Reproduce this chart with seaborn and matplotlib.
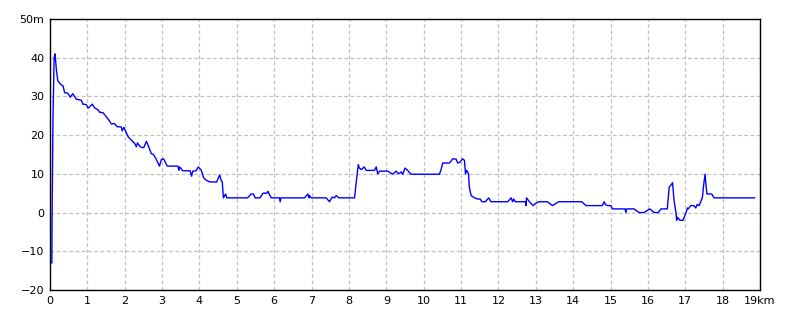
import matplotlib
matplotlib.use("Agg")
import matplotlib.pyplot as plt
import seaborn as sns
import pandas as pd

# distance (km) and elevation (m)
dist_km = [0, 0.05, 0.055, 0.08, 0.11, 0.135, 0.17, 0.21, 0.30, 0.35, 0.39, 0.48, 0.54, 0.61,
           0.70, 0.84, 0.88, 0.97, 1.02, 1.06, 1.13, 1.20, 1.29, 1.33, 1.42, 1.50, 1.59, 1.64,
           1.73, 1.79, 1.91, 1.93, 1.98, 2.03, 2.09, 2.18, 2.27, 2.31, 2.34, 2.40, 2.45, 2.51,
           2.58, 2.65, 2.71, 2.77, 2.84, 2.93, 2.98, 3.04, 3.09, 3.14, 3.42, 3.45, 3.47, 3.55,
           3.75, 3.79, 3.82, 3.91, 3.97, 4.05, 4.11, 4.19, 4.28, 4.46, 4.54, 4.58, 4.61, 4.64,
           4.70, 4.73, 4.79, 5.29, 5.38, 5.44, 5.49, 5.62, 5.70, 5.80, 5.83,
           5.92, 6.14, 6.16, 6.18, 6.81, 6.90, 6.93, 6.94, 6.99, 7.39, 7.48, 7.55, 7.61, 7.66,
           7.73, 8.15, 8.19, 8.25, 8.28, 8.33, 8.41, 8.46, 8.68, 8.73, 8.77, 8.82, 9.04, 9.17,
           9.26, 9.33, 9.40, 9.44, 9.50, 9.57, 9.66, 10.42, 10.46, 10.51, 10.69, 10.78, 10.87,
           10.91, 10.97, 11.04, 11.09, 11.12, 11.15, 11.20, 11.22, 11.27, 11.36, 11.44, 11.51,
           11.56, 11.65, 11.74, 11.80, 12.25, 12.34, 12.38, 12.41, 12.45, 12.72, 12.74, 12.75,
           12.83, 12.93, 13.00, 13.09, 13.31, 13.45, 13.61, 14.23, 14.34, 14.78, 14.83, 14.86,
           14.92, 15.01, 15.05, 15.39, 15.41, 15.43, 15.63, 15.72, 15.77, 15.90, 16.05, 16.17,
           16.28, 16.35, 16.52, 16.57, 16.61, 16.66, 16.70, 16.75, 16.77, 16.79, 16.86, 16.94,
           17.01, 17.06, 17.08, 17.15, 17.23, 17.28, 17.32, 17.37, 17.41, 17.46, 17.49, 17.53,
           17.55, 17.58, 17.66, 17.71, 17.77, 18.86]
elev_m = [-13, -13, -2, 24.3, 40, 41, 37, 34, 33, 32.7, 31, 30.8, 29.8, 30.7,
          29.3, 29, 28, 27.9, 27, 27.3, 28, 27, 26.5, 25.9, 25.8, 24.8, 23.7, 22.9,
          23, 22.2, 22.1, 21.1, 22, 20.9, 19.6, 18.7, 17.8, 17, 18, 17.2, 16.8, 16.8,
          18.4, 16.8, 15.2, 15, 13.8, 12, 13.7, 13.9, 12.9, 12, 12, 10.9, 11.8, 10.8,
          10.8, 9.4, 10.7, 10.8, 11.8, 10.9, 9, 8.3, 7.9, 7.9, 9.7, 8.3, 7.9, 3.8,
          4.8, 3.8, 3.8, 3.8, 4.8, 4.8, 3.8, 3.8, 5, 5, 5.5,
          3.8, 3.8, 2.8, 3.8, 3.8, 4.8, 3.8, 4.4, 3.8, 3.8, 2.8, 4.0, 3.8, 4.4,
          3.8, 3.8, 7.4, 12.4, 11.5, 11.1, 11.8, 10.9, 10.9, 11.8, 10.0, 10.7, 10.7, 9.9,
          10.7, 10.0, 10.5, 9.9, 11.5, 10.9, 9.9, 9.9, 10.9, 12.8, 12.8, 13.9, 13.8,
          12.8, 13.0, 13.9, 13.5, 10.0, 10.9, 10.0, 6.6, 4.4, 3.8, 3.5, 3.5,
          2.8, 2.8, 3.8, 2.8, 2.8, 3.8, 2.8, 3.5, 2.8, 2.8, 1.8, 3.8,
          2.8, 1.8, 2.4, 2.8, 2.8, 1.8, 2.8, 2.8, 1.8, 1.8, 2.8, 2.1,
          1.8, 1.8, 0.95, 0.95, 0.0, 0.95, 0.95, 0.3, 0.0, 0.0, 0.95, 0.0,
          0.0, 0.95, 0.95, 6.6, 7.0, 7.7, 3.1, 0.0, -2.0, -1.2, -2.0, -2.0,
          -0.3, 1.2, 0.95, 1.8, 1.8, 1.2, 2.1, 1.8, 2.7, 4.0, 7.0, 9.9,
          7.5, 4.8, 4.8, 4.8, 3.8, 3.8]

x_ticks = list(range(0, 20))
x_labels = [str(v) for v in range(0, 19)] + ["19km"]
y_ticks = [-20, -10, 0, 10, 20, 30, 40, 50]
y_labels = ["\u221220", "\u221210", "0", "10", "20", "30", "40", "50m"]

sns.set_style("white")
plt.rcParams["font.family"] = ["DejaVu Sans"]

df = pd.DataFrame({"km": dist_km, "m": elev_m})

fig = plt.figure(figsize=(8, 3.2), dpi=100)
ax = fig.add_axes([50 / 800, 30 / 320, 710 / 800, 271 / 320])
sns.lineplot(data=df, x="km", y="m", sort=False, estimator=None,
             color="#0000ff", linewidth=1.0, ax=ax)

ax.set_xlim(0, 19)
ax.set_ylim(-20, 50)
ax.set_xticks(x_ticks)
ax.set_xticklabels(x_labels)
ax.set_yticks(y_ticks)
ax.set_yticklabels(y_labels)
ax.set_xlabel("")
ax.set_ylabel("")
ax.grid(True, color="#c0c0c0", linestyle=(0, (3, 2)), linewidth=0.9)
ax.set_axisbelow(True)
for s in ax.spines.values():
    s.set_color("black")
    s.set_linewidth(1.0)
ax.tick_params(axis="both", length=0, labelsize=8, colors="black")
ax.tick_params(axis="x", pad=4)
ax.tick_params(axis="y", pad=4)

fig.savefig("out.png", dpi=100, facecolor="white")
